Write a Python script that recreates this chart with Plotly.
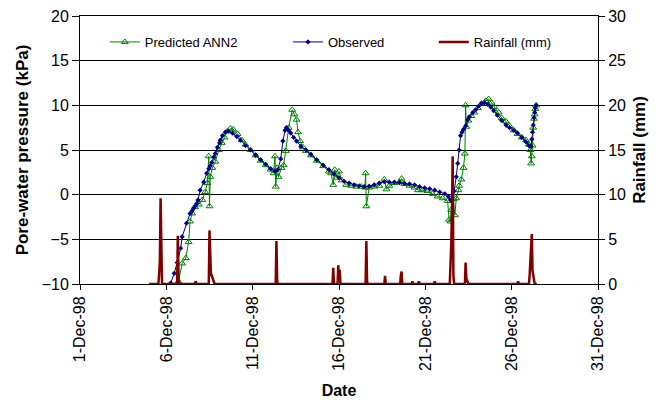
import pandas as pd
import plotly.graph_objects as go

# Time stamps are hours after 1998-12-01 00:00
START = pd.Timestamp("1998-12-01")

obs_hours = [126, 131, 135, 140, 142, 148, 153, 156, 158, 160, 162, 164, 167, 172,
             176, 179, 181, 183, 186, 188, 191, 194, 195, 198, 202, 206, 212, 218,
             223, 230, 237, 244, 251, 258, 265, 271, 275, 279, 282, 285, 287, 290,
             293, 297, 301, 307, 314, 321, 329, 338, 346, 353, 360, 367, 374, 381,
             388, 395, 402, 409, 416, 423, 430, 437, 444, 451, 458, 465, 472, 479,
             486, 493, 500, 507, 512, 515, 518, 520, 523, 525, 527, 529, 531, 533,
             536, 539, 541, 546, 550, 554, 558, 562, 567, 571, 575, 580, 586, 592,
             597, 603, 608, 614, 620, 624, 627, 628, 629, 630, 631, 632, 633, 634]
obs_kpa = [-9.9, -8.8, -7.6, -6.0, -4.7, -3.2, -2.1, -1.8, -1.5, -1.3, -1.0, -0.6, 0.5, 1.4,
           2.4, 2.9, 3.2, 3.6, 4.2, 4.6, 5.3, 5.8, 6.1, 6.6, 7.0, 7.1, 6.9, 6.5,
           6.1, 5.5, 5.0, 4.4, 3.9, 3.4, 2.9, 2.6, 2.8, 4.0, 6.0, 7.2, 7.5, 7.2,
           6.9, 6.4, 6.0, 5.4, 5.0, 4.5, 3.9, 3.3, 2.8, 2.3, 1.9, 1.5, 1.3, 1.1,
           1.0, 0.9, 0.95, 1.1, 1.3, 1.45, 1.4, 1.4, 1.35, 1.25, 1.2, 1.1, 0.9, 0.75,
           0.65, 0.5, 0.3, 0.1, -0.2, -0.6, 0.0, 0.4, 2.0, 3.5, 5.0, 6.6, 7.0, 7.3,
           7.7, 8.4, 8.7, 9.2, 9.5, 9.9, 10.2, 10.3, 10.1, 9.8, 9.4, 8.9, 8.3, 7.8,
           7.5, 7.2, 6.9, 6.4, 5.9, 5.5, 5.4, 6.2, 7.0, 7.8, 8.6, 9.2, 9.7, 10.0]

ann_hours = [137, 142, 147, 151, 153, 156, 160, 165, 170, 174, 177, 179, 180, 181,
             184, 188, 193, 197, 201, 205, 209, 213, 219, 225, 230, 237, 244, 251,
             258, 265, 269, 271, 272, 274, 276, 280, 283, 286, 290, 295, 298, 301,
             303, 306, 310, 314, 321, 329, 338, 346, 349, 352, 354, 357, 360, 364,
             370, 377, 384, 391, 396, 397, 398, 402, 409, 416, 423, 426, 430, 437,
             444, 447, 451, 458, 465, 470, 476, 483, 490, 497, 504, 511, 513, 515,
             516, 519, 521, 523, 526, 527, 530, 533, 535, 536, 537, 540, 544, 548,
             553, 558, 564, 568, 572, 576, 582, 586, 592, 597, 603, 608, 614, 620,
             624, 626, 627, 628, 629, 630, 631, 632, 633, 634]
ann_kpa = [-9.7, -7.7, -7.1, -5.3, -3.0, -2.1, -1.4, -1.1, -0.6, 0.3, 1.3, 4.3, -1.3, 2.0,
           3.0, 3.7, 5.0, 5.8, 6.4, 7.1, 7.4, 7.3, 6.8, 6.1, 5.6, 5.0, 4.4, 3.8,
           3.3, 2.8, 2.4, 4.3, 0.9, 3.0, 2.0, 3.0, 3.3, 4.9, 7.5, 9.5, 9.0, 8.4,
           7.0, 6.0, 5.3, 4.9, 4.4, 3.8, 3.2, 2.6, 2.4, 1.1, 2.8, 1.9, 2.6, 1.6,
           1.1, 1.0, 0.9, 0.9, 0.8, 2.4, -1.3, 0.8, 0.9, 1.0, 1.7, 0.6, 1.0, 1.3,
           1.4, 1.8, 1.2, 1.0, 0.8, 0.5, 0.5, 0.4, 0.1, -0.2, -0.4, -0.7, -2.8, -3.0,
           -1.7, -0.5, -2.3, -0.4, 0.5, 1.0, 1.7, 3.0, 4.6, 10.0, 7.6, 8.3, 8.8, 9.2,
           9.7, 10.2, 10.5, 10.7, 10.3, 9.8, 9.2, 8.6, 8.2, 7.7, 7.2, 6.8, 6.4, 6.1,
           5.6, 5.0, 3.5, 4.3, 5.5, 7.5, 8.5, 9.0, 9.6, 10.0]

rain_hours = [96, 109, 110, 111, 112, 113, 114, 135, 136, 137, 138, 159, 160, 161, 162,
              179, 180, 181, 182, 183, 184, 185, 186, 187, 272, 273, 274, 275,
              351, 352, 353, 358, 359, 360, 361, 362, 397, 398, 399, 400,
              423, 424, 425, 445, 446, 447, 448, 461, 462, 463, 470, 471, 472,
              492, 493, 494, 514, 515, 516, 517, 518, 519, 520,
              535, 536, 537, 538, 539, 540, 608, 609, 610,
              624, 625, 626, 627, 628, 629, 630, 631, 632, 635]
rain_mm = [0, 0, 1.2, 2.5, 9.6, 0.8, 0, 0, 5.4, 0.5, 0, 0, 0.3, 0.3, 0,
           0, 6.0, 1.5, 1.0, 1.0, 0.8, 0.6, 0.3, 0, 0, 4.8, 0.4, 0,
           0, 1.8, 0, 0, 2.1, 0.5, 1.6, 0, 0, 4.8, 0.3, 0,
           0, 0.9, 0, 0, 1.0, 1.4, 0, 0, 0.3, 0, 0, 0.3, 0,
           0, 0.3, 0, 0, 4.2, 4.4, 8.0, 14.3, 1.0, 0,
           0, 2.4, 0.6, 0.4, 0.3, 0, 0, 0.3, 0,
           0, 1.0, 2.6, 4.0, 5.6, 1.5, 1.0, 0.3, 0, 0]

x_ticks = ["1998-12-01", "1998-12-06", "1998-12-11", "1998-12-16",
           "1998-12-21", "1998-12-26", "1998-12-31"]
x_tick_text = ["1-Dec-98", "6-Dec-98", "11-Dec-98", "16-Dec-98",
               "21-Dec-98", "26-Dec-98", "31-Dec-98"]


def to_time(hours):
    return START + pd.to_timedelta(hours, unit="h")


FONT = "Liberation Sans, Arial, sans-serif"
GREEN = "#008000"
NAVY = "#000080"
MAROON = "#800000"

fig = go.Figure()

fig.add_trace(go.Scatter(
    x=to_time(ann_hours), y=ann_kpa, name="Predicted ANN2", mode="lines+markers",
    line=dict(color=GREEN, width=1),
    marker=dict(symbol="triangle-up-open", size=6, color=GREEN, line=dict(width=1)),
    legend="legend", showlegend=True,
))
fig.add_trace(go.Scatter(
    x=to_time(obs_hours), y=obs_kpa, name="Observed", mode="lines+markers",
    line=dict(color=NAVY, width=1),
    marker=dict(symbol="diamond", size=4, color=NAVY),
    legend="legend2", showlegend=True,
))
fig.add_trace(go.Scatter(
    x=to_time(rain_hours), y=rain_mm, name="Rainfall (mm)", mode="lines",
    line=dict(color=MAROON, width=2.5),
    yaxis="y2", legend="legend3", showlegend=True,
))

legend_common = dict(orientation="h", yanchor="middle", y=0.903, xanchor="left",
                     bgcolor="rgba(0,0,0,0)", borderwidth=0, visible=True,
                     font=dict(family=FONT, size=13, color="black"))

fig.update_layout(
    width=664, height=408,
    showlegend=True,
    margin=dict(l=80, r=66, t=16, b=124, autoexpand=False),
    paper_bgcolor="white", plot_bgcolor="white",
    font=dict(family=FONT, color="black"),
    legend=dict(x=0.048, **legend_common),
    legend2=dict(x=0.4015, **legend_common),
    legend3=dict(x=0.683, **legend_common),
    xaxis=dict(
        type="date", range=["1998-12-01", "1998-12-31"],
        tickvals=x_ticks, ticktext=x_tick_text, tickangle=-90,
        tickfont=dict(size=16), ticks="outside", ticklen=5, tickcolor="black",
        showline=True, linecolor="black", linewidth=1, mirror=True,
        showgrid=False, zeroline=False, layer="below traces",
        title=dict(text="Date", font=dict(size=16, weight="bold"), standoff=14),
    ),
    yaxis=dict(
        range=[-10, 20], dtick=5, tick0=-10,
        tickfont=dict(size=16), ticks="outside", ticklen=7, tickcolor="black",
        showline=True, linecolor="black", linewidth=1,
        showgrid=True, gridcolor="black", gridwidth=1, zeroline=False,
        title=dict(text="Pore-water pressure (kPa)", font=dict(size=17, weight="bold"),
                   standoff=8),
    ),
    yaxis2=dict(
        range=[0, 30], dtick=5, tick0=0, overlaying="y", side="right",
        tickfont=dict(size=16), ticks="outside", ticklen=6, tickcolor="black",
        showline=True, linecolor="black", linewidth=1,
        showgrid=False, zeroline=False,
        title=dict(text="Rainfall (mm)", font=dict(size=17, weight="bold"), standoff=8),
    ),
)

fig.write_html("out.html")
